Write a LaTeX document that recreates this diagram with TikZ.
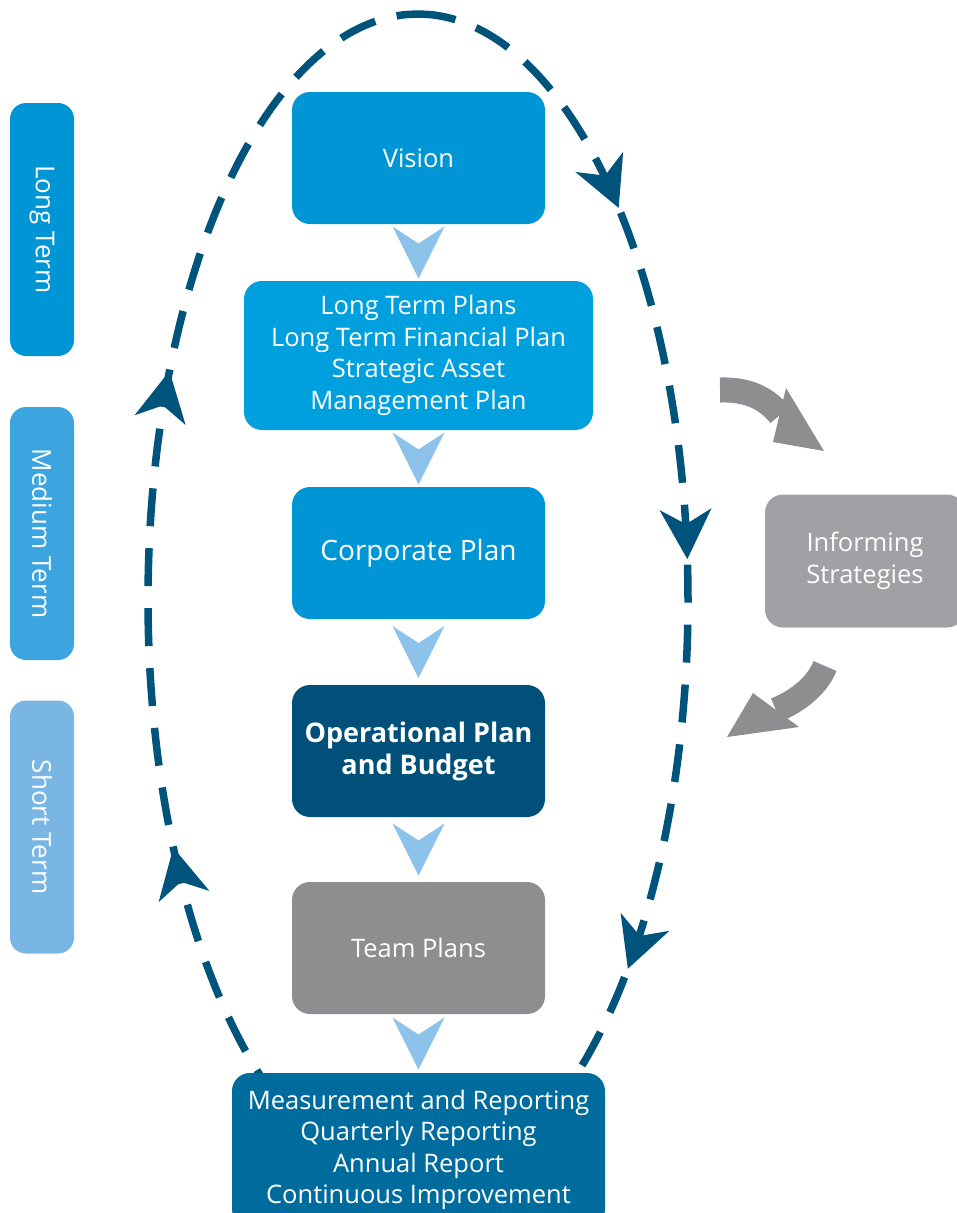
\documentclass[tikz,border=0pt]{standalone}
\usepackage{fontspec}
\setmainfont{Open Sans}
\usetikzlibrary{arrows.meta,calc,decorations.markings}

\definecolor{visionblue}{RGB}{0,150,214}
\definecolor{planblue}{RGB}{0,160,222}
\definecolor{operblue}{RGB}{0,80,122}
\definecolor{measblue}{RGB}{0,108,158}
\definecolor{teamgray}{RGB}{142,142,144}
\definecolor{infogray}{RGB}{160,161,164}
\definecolor{mediumblue}{RGB}{60,164,222}
\definecolor{shortblue}{RGB}{122,182,228}
\definecolor{cycleblue}{RGB}{0,84,124}
\definecolor{chevblue}{RGB}{141,195,234}

\tikzset{
  planbox/.style={rounded corners=18pt, text=white, align=center, inner sep=0pt,
    minimum width=253pt, minimum height=132pt, font=\fontsize{25.5}{31.5}\selectfont},
  termbar/.style={rounded corners=16pt, text=white, rotate=-90, inner sep=0pt,
    minimum width=253pt, minimum height=64pt, font=\fontsize{26}{30}\selectfont},
  cycleline/.style={cycleblue, line width=7.5pt, dash pattern=on 38pt off 22pt},
  cycletip/.style={decoration={markings, mark=at position 1 with
      {\arrow[cycleblue]{Stealth[length=50pt, width=52pt, inset=15pt, line width=0pt]}}},
    decorate},
  chevron/.style={fill=chevblue},
  feedshaft/.style={teamgray, line width=25pt},
  feedhead/.style={fill=teamgray}
}

\begin{document}
\begin{tikzpicture}[x=1pt, y=-1pt]
    % 1) Frame of the picture
    \useasboundingbox (0,0) rectangle (956,1213);

    % 2) Dashed planning cycle, with its arrow heads
    \draw[cycleline] plot[domain=270:630, samples=121, smooth]
      ({418+270*cos(\x)}, {600+586*sin(\x)});
    \foreach \t [evaluate=\t as \s using \t-1] in {318,356,399,515,563} {
      \path[cycletip] plot[domain=\s:\t, samples=2]
        ({418+270*cos(\x)}, {600+586*sin(\x)});
    }

    % 3) Planning boxes, top to bottom
    \node[planbox, fill=visionblue] (vision) at (418.5,158) {Vision};
    \node[planbox, fill=planblue, minimum width=349pt, minimum height=149pt]
      (longplans) at (418.5,355.5)
      {Long Term Plans\\Long Term Financial Plan\\Strategic Asset\\Management Plan};
    \node[planbox, fill=visionblue, font=\fontsize{28}{32}\selectfont]
      (corporate) at (418.5,553) {Corporate Plan};
    \node[planbox, fill=operblue, font=\fontsize{27}{32}\selectfont\bfseries]
      (operational) at (418.5,751) {Operational Plan\\and Budget};
    \node[planbox, fill=teamgray] (team) at (418.5,948) {Team Plans};
    \node[planbox, fill=measblue, minimum width=373pt, minimum height=154pt]
      (measurement) at (418.5,1150)
      {Measurement and Reporting\\Quarterly Reporting\\Annual Report\\Continuous Improvement};

    % 4) Chevrons from each box to the next
    \foreach \a/\b in {vision/longplans, longplans/corporate, corporate/operational,
                       operational/team, team/measurement} {
      \fill[chevron] ($(\a.south)!0.5!(\b.north)$) ++(-26,-26) -- ++(26,17)
        -- ++(26,-17) -- ++(-26,52) -- cycle;
    }

    % 5) Term bars on the left
    \node[termbar, fill=visionblue] (longterm) at (42,229.5) {Long Term};
    \node[termbar, fill=mediumblue] (mediumterm) at (42,533.5) {Medium Term};
    \node[termbar, fill=shortblue] (shortterm) at (42,827) {Short Term};

    % 6) Informing strategies and the two grey arrows
    \node[planbox, fill=infogray, minimum width=200pt, minimum height=133pt]
      (informing) at (865,561) {Informing\\Strategies};
    \coordinate (feedout) at (720,390);
    \coordinate (feedbase) at (780,415);
    \coordinate (feedtip) at (824,451);
    \coordinate (backtail) at (825,666);
    \coordinate (backbase) at (776,710);
    \coordinate (backtip) at (727,737);
    \draw[feedshaft] (feedout) .. controls (750,389) and (768,400) .. (feedbase);
    \fill[feedhead] (feedtip) -- ++(-38,-63) -- ++(-13,54) -- cycle;
    \draw[feedshaft] (backtail) .. controls (818,684) and (800,700) .. (backbase);
    \fill[feedhead] (backtip) -- ++(26,-44) -- ++(46,34) -- cycle;
\end{tikzpicture}
\end{document}
